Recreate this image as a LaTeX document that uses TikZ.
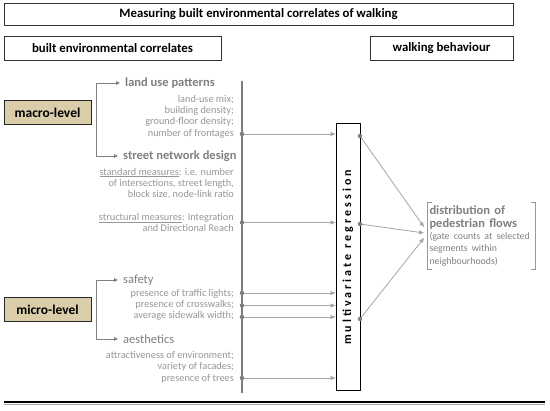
\documentclass[tikz,border=0pt]{standalone}
\usepackage{fontspec}
\setmainfont{Carlito}
\newfontfamily\spacedfont[LetterSpace=25]{Carlito}
\usetikzlibrary{arrows.meta}
\definecolor{tanfill}{RGB}{217,205,170}
\definecolor{hdr}{RGB}{127,127,127}
\definecolor{itm}{RGB}{150,150,150}
\definecolor{arr}{RGB}{165,165,165}
\definecolor{dotc}{RGB}{125,125,125}
\begin{document}
\begin{tikzpicture}[x=1pt,y=-1pt,
 topbox/.style={draw=black!80, line width=0.9pt, inner sep=0pt, font=\fontsize{12.8}{14}\selectfont\bfseries},
 levelbox/.style={draw=black!85, line width=1pt, fill=tanfill, minimum width=87pt, minimum height=24pt, inner sep=0pt, font=\fontsize{13.5}{15}\selectfont\bfseries},
 head/.style={anchor=west, text=hdr, font=\fontsize{12.5}{14}\selectfont\bfseries, inner sep=0pt},
 headr/.style={anchor=west, text=hdr, font=\fontsize{12.5}{14}\selectfont, inner sep=0pt},
 items/.style={anchor=east, align=right, text=itm, font=\fontsize{10.3}{11.3}\selectfont, inner sep=0pt},
 brk/.style={draw=hdr, line width=0.9pt, -{Triangle[length=4pt,width=3.5pt]}, shorten >=5pt},
 feed/.style={draw=arr, line width=0.8pt, -{Triangle[length=5pt,width=4pt]}},
 dotn/.style={fill=dotc, circle, inner sep=0pt, minimum size=4.5pt},
]
\useasboundingbox (0,0) rectangle (550,411);

% header boxes
\node[topbox, minimum width=509pt, minimum height=22pt] (title) at (258.5,14) {Measuring built environmental correlates of walking};
\node[topbox, minimum width=217pt, minimum height=24pt] (bec) at (112.5,48) {built environmental correlates};
\node[topbox, minimum width=143pt, minimum height=24pt] (wb) at (441.5,48) {walking behaviour};

% level boxes
\node[levelbox] (macro) at (47.5,113) {macro-level};
\node[levelbox] (micro) at (47.5,310) {micro-level};

% headings
\node[head] (lup) at (125,83) {land use patterns};
\node[head] (snd) at (123,156) {street network design};
\node[headr] (saf) at (123,280) {safety};
\node[headr] (aes) at (123,339) {aesthetics};

% brackets
\coordinate (mb) at (96,120);
\coordinate (mib) at (96,310);
\draw[brk] (mb) |- (lup.west);
\draw[brk] (mb) |- (snd.west);
\draw[brk] (mib) |- (saf.west);
\draw[brk] (mib) |- (aes.west);

% item blocks
\node[items] (lui) at (234,116.5) {land-use mix;\\building density;\\ground-floor density;\\number of frontages};
\node[items] (stdm) at (234,183.5) {\underline{standard measures}: i.e. number\\of intersections, street length,\\block size, node-link ratio};
\node[items] (strm) at (234,222.5) {\underline{structural measures}: Integration\\and Directional Reach};
\node[items] (safi) at (234,305) {presence of traffic lights;\\presence of crosswalks;\\average sidewalk width;};
\node[items] (aesi) at (234,367) {attractiveness of environment;\\variety of facades;\\presence of trees};

% vertical line
\coordinate (vtop) at (242,81);
\coordinate (vbot) at (242,393);
\draw[draw=dotc, line width=1.3pt] (vtop) -- (vbot);

% regression box
\node[draw=black, line width=1pt, minimum width=24pt, minimum height=267pt, inner sep=0pt] (reg) at (348,257.5)
  {\rotatebox{90}{\fontsize{12}{13}\spacedfont\bfseries multivariate regression}};

% input dots
\coordinate (d1) at (242,134);
\coordinate (d2) at (242,222.5);
\coordinate (d3) at (242,293);
\coordinate (d4) at (242,305.5);
\coordinate (d5) at (242,317);
\coordinate (d6) at (242,378);
\foreach \d in {d1,d2,d3,d4,d5,d6}{
  \draw[feed] (\d) -- (\d -| reg.west);
  \node[dotn] at (\d) {};
}

% target
\node[align=left, text width=104pt, minimum height=66pt, inner xsep=1.5pt, inner ysep=3pt, text=hdr,
      font=\fontsize{12.5}{12.3}\selectfont] (tgt) at (481.5,236)
  {\hyphenpenalty=10000 \textbf{distribution of}\\\textbf{pedestrian flows}\\{\fontsize{9.8}{12.3}\selectfont (gate counts at selected\\segments within\\neighbourhoods)}};
\draw[draw=hdr!80, line width=0.9pt] ([xshift=4pt]tgt.north west) -- (tgt.north west) -- (tgt.south west) -- ([xshift=4pt]tgt.south west);
\draw[draw=hdr!80, line width=0.9pt] ([xshift=-4pt]tgt.north east) -- (tgt.north east) -- (tgt.south east) -- ([xshift=-4pt]tgt.south east);

% outputs
\coordinate (o1) at (360,136);
\coordinate (o2) at (360,224);
\coordinate (o3) at (360,319);
\coordinate (t1) at (424,227);
\coordinate (t2) at (424,233);
\coordinate (t3) at (424,238);
\draw[feed] (o1) -- (t1);
\draw[feed] (o2) -- (t2);
\draw[feed] (o3) -- (t3);
\foreach \o in {o1,o2,o3}{\node[dotn] at (\o) {};}

% bottom rule
\coordinate (bl) at (4,402);
\coordinate (br) at (545,402);
\draw[line width=2pt] (bl) -- (br);
\draw[draw=black!35, line width=1pt] ([yshift=-2.5pt]bl) -- ([yshift=-2.5pt]br);
\end{tikzpicture}
\end{document}
